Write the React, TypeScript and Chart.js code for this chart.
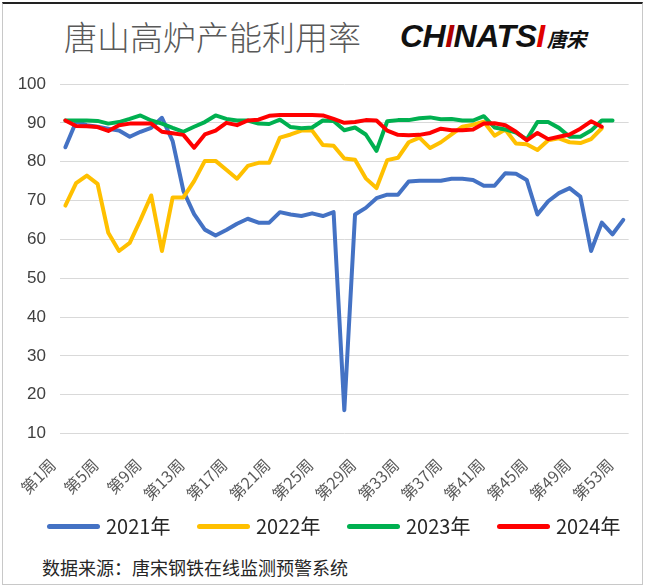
import React, { useEffect, useRef } from "react";
import { Chart, registerables } from "chart.js";

Chart.register(...registerables);

// categories: weeks 1..53
const weeks: string[] = Array.from({ length: 53 }, (_, i) => `第${i + 1}周`);

const y2021: number[] = [
  83.7, 90.3, 89.4, 89.0, 88.5, 88.0, 86.4, 87.7, 88.7, 91.3,
  85.3, 72.5, 66.5, 62.5, 61.0, 62.4, 64.0, 65.3, 64.3, 64.3,
  67.0, 66.4, 66.0, 66.7, 66.0, 67.0, 16.0, 66.4, 68.1, 70.6,
  71.5, 71.5, 74.9, 75.1, 75.1, 75.1, 75.6, 75.6, 75.3, 73.8,
  73.8, 77.0, 76.9, 75.3, 66.4, 69.8, 71.9, 73.2, 71.0, 57.0,
  64.3, 61.3, 65.0,
];

const y2022: number[] = [
  68.7, 74.5, 76.4, 74.3, 61.7, 57.0, 59.1, 65.0, 71.3, 57.0,
  70.8, 70.8, 75.0, 80.2, 80.2, 77.9, 75.6, 78.9, 79.7, 79.7,
  86.2, 87.0, 88.0, 88.0, 84.3, 84.1, 80.8, 80.5, 75.7, 73.2,
  80.4, 81.0, 85.0, 86.2, 83.5, 85.0, 87.0, 89.0, 89.5, 90.3,
  86.7, 88.3, 84.7, 84.5, 83.0, 85.5, 86.0, 85.0, 84.8, 85.8,
  88.6,
];

const y2023: number[] = [
  90.6, 90.6, 90.6, 90.5, 89.8, 90.2, 91.0, 91.9, 90.6, 89.8,
  88.7, 87.7, 89.0, 90.2, 91.9, 91.0, 90.6, 90.6, 89.8, 89.7,
  90.8, 88.9, 88.6, 88.8, 90.6, 90.5, 88.1, 88.8, 87.0, 82.8,
  90.4, 90.7, 90.7, 91.2, 91.4, 90.9, 91.0, 90.6, 90.6, 91.7,
  88.8, 88.3, 87.5, 85.7, 90.2, 90.2, 88.7, 86.4, 86.4, 88.0,
  90.6, 90.6,
];

const y2024: number[] = [
  90.6, 89.2, 89.1, 88.9, 87.9, 89.4, 89.8, 89.8, 89.8, 87.7,
  87.3, 86.9, 83.6, 87.0, 88.0, 90.0, 89.4, 90.6, 90.8, 91.8,
  92.0, 92.0, 92.0, 92.0, 91.9, 91.0, 90.0, 90.2, 90.7, 90.6,
  88.0, 86.9, 86.8, 86.9, 87.4, 88.5, 88.1, 88.1, 88.3, 89.8,
  89.9, 89.4, 87.7, 85.5, 87.4, 85.8, 86.4, 87.0, 88.5, 90.4,
  89.0,
];

const seriesNames: string[] = ["2021年", "2022年", "2023年", "2024年"];
const seriesColors: string[] = ["#4472C4", "#FFC000", "#00B050", "#FF0000"];
const yTicks: number[] = [10, 20, 30, 40, 50, 60, 70, 80, 90, 100];

const CJK = "'Noto Sans CJK SC', 'Noto Sans', sans-serif";
const PAD = "\u00A0\u00A0\u00A0\u00A0\u00A0";

export default function App() {
  const ref = useRef<HTMLCanvasElement | null>(null);

  useEffect(() => {
    if (!ref.current) return;
    const allSeries = [y2021, y2022, y2023, y2024];
    const chart = new Chart(ref.current, {
      type: "line",
      data: {
        labels: weeks,
        datasets: allSeries.map((d, i) => ({
          label: seriesNames[i],
          data: d,
          borderColor: seriesColors[i],
          backgroundColor: seriesColors[i],
          borderWidth: 4,
          pointRadius: 0,
          pointHoverRadius: 0,
          tension: 0,
          fill: false,
          borderCapStyle: "round" as const,
          borderJoinStyle: "round" as const,
          order: 4 - i,
        })),
      },
      options: {
        animation: false,
        responsive: false,
        maintainAspectRatio: false,
        layout: { padding: { top: 84, right: 16, left: 0, bottom: 0 } },
        plugins: {
          legend: { display: false },
          tooltip: { enabled: false },
          title: { display: false },
        },
        scales: {
          x: {
            type: "category",
            offset: true,
            grid: { display: false, drawTicks: false },
            border: { display: false },
            ticks: {
              autoSkip: false,
              maxRotation: 45,
              minRotation: 45,
              padding: 9,
              color: "#595959",
              font: { family: CJK, size: 16 },
              callback: (_v: any, i: number) => (i % 4 === 0 ? weeks[i] + PAD : ""),
            },
            afterFit: (s: any) => {
              s.height = 81.5;
            },
          },
          y: {
            min: yTicks[0],
            max: yTicks[yTicks.length - 1],
            afterBuildTicks: (s: any) => {
              s.ticks = yTicks.map((v) => ({ value: v }));
            },
            grid: { color: "#d9d9d9", lineWidth: 1, drawTicks: false },
            border: { display: false },
            ticks: {
              padding: 14,
              color: "#404040",
              font: { family: "'Liberation Sans', Arial, sans-serif", size: 17 },
            },
            afterFit: (s: any) => {
              s.width = 60;
            },
          },
        },
      },
    });
    return () => chart.destroy();
  }, []);

  const legendX = [47, 197, 347, 497];

  return (
    <div
      style={{
        position: "fixed",
        left: 0,
        top: 0,
        width: 646,
        height: 585,
        background: "#fff",
        overflow: "hidden",
      }}
    >
      <div
        style={{
          position: "absolute",
          left: 2,
          top: 2,
          width: 639,
          height: 580,
          borderTop: "2px solid #222",
          borderLeft: "1px solid #c8c8c8",
          borderRight: "1px solid #c8c8c8",
          borderBottom: "1px solid #c8c8c8",
        }}
      />
      <div
        style={{
          position: "absolute",
          left: 64,
          top: 14,
          fontFamily: CJK,
          fontSize: 33,
          fontWeight: 300,
          color: "#595959",
          lineHeight: "44px",
          whiteSpace: "nowrap",
        }}
      >
        唐山高炉产能利用率
      </div>
      <div
        style={{
          position: "absolute",
          left: 400,
          top: 18,
          fontFamily: "'Liberation Sans', Arial, sans-serif",
          fontSize: 32,
          fontWeight: 700,
          fontStyle: "italic",
          color: "#111",
          lineHeight: "36px",
          whiteSpace: "nowrap",
          letterSpacing: -0.5,
        }}
      >
        CH<span style={{ color: "#b00000" }}>I</span>NATS
        <span style={{ color: "#e00000" }}>I</span>
        <span style={{ fontFamily: CJK, fontSize: 20, fontWeight: 700, marginLeft: 2 }}>唐宋</span>
      </div>
      <canvas
        ref={ref}
        width={646}
        height={515}
        style={{ position: "absolute", left: 0, top: 0, width: 646, height: 515 }}
      />
      {seriesNames.map((n, i) => (
        <React.Fragment key={n}>
          <div
            style={{
              position: "absolute",
              left: legendX[i],
              top: 524,
              width: 53,
              height: 5,
              borderRadius: 3,
              background: seriesColors[i],
            }}
          />
          <div
            style={{
              position: "absolute",
              left: legendX[i] + 59,
              top: 512,
              fontFamily: CJK,
              fontSize: 20,
              lineHeight: "28px",
              color: "#262626",
              whiteSpace: "nowrap",
            }}
          >
            {n}
          </div>
        </React.Fragment>
      ))}
      <div
        style={{
          position: "absolute",
          left: 42,
          top: 555,
          fontFamily: CJK,
          fontSize: 18,
          lineHeight: "24px",
          color: "#262626",
          whiteSpace: "nowrap",
        }}
      >
        数据来源：唐宋钢铁在线监测预警系统
      </div>
    </div>
  );
}
